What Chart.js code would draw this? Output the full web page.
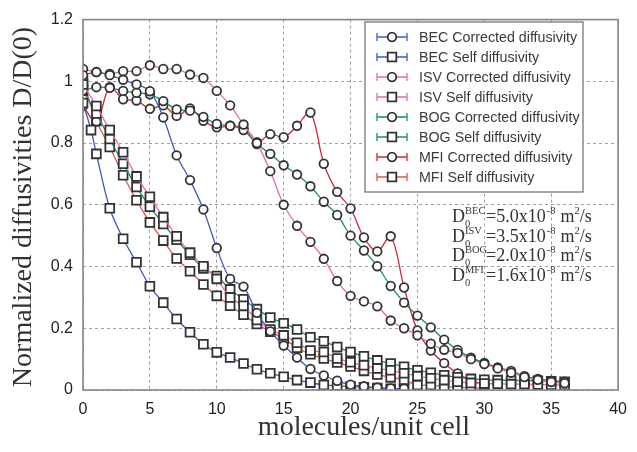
<!DOCTYPE html>
<html>
<head>
<meta charset="utf-8">
<script src="https://cdn.jsdelivr.net/npm/chart.js@4/dist/chart.umd.min.js"></script>
<style>
  html, body { margin: 0; padding: 0; background: #fff; }
  #wrap { width: 637px; height: 452px; position: relative; }
</style>
</head>
<body>
<div id="wrap"><canvas id="diff-chart"></canvas></div>
<script>
// Loading (molecules per unit cell)
const loading = [0, 1, 2, 3, 4, 5, 6, 7, 8, 9, 10, 11, 12, 13, 14, 15, 16, 17, 18,
  19, 20, 21, 22, 23, 24, 25, 26, 27, 28, 29, 30, 31, 32, 33, 34, 35, 36];
const becSelfLoading = [0, 0.6, 1, 2, 3, 4, 5, 6, 7, 8, 9, 10, 11, 12, 13, 14, 15, 16,
  17, 18, 19, 20, 21, 22, 23, 24];

// Normalized diffusivities D/D(0)
const becCorrected = [1.02, 1.03, 1.02, 1.005, 0.99, 0.968, 0.883, 0.76, 0.68, 0.585, 0.46,
  0.36, 0.335, 0.25, 0.19, 0.144, 0.105, 0.068, 0.047, 0.03, 0.017, 0.012, 0.008, 0.005, 0.004];
const becSelf = [0.93, 0.842, 0.765, 0.589, 0.49, 0.414, 0.336, 0.283, 0.23, 0.187, 0.148,
  0.122, 0.105, 0.086, 0.067, 0.054, 0.043, 0.032, 0.024, 0.016, 0.014, 0.011, 0.009, 0.006,
  0.004, 0.004];
const isvCorrected = [1.04, 1.03, 1.024, 1.033, 1.033, 1.052, 1.04, 1.04, 1.022, 1.011, 0.969,
  0.922, 0.86, 0.8, 0.709, 0.6, 0.532, 0.48, 0.425, 0.353, 0.305, 0.287, 0.271, 0.225, 0.2,
  0.177, 0.15, 0.13, 0.12, 0.1, 0.084, 0.07, 0.056, 0.042, 0.033, 0.026, 0.022];
const isvSelf = [0.99, 0.92, 0.842, 0.77, 0.692, 0.626, 0.56, 0.498, 0.445, 0.401, 0.36, 0.3,
  0.273, 0.227, 0.196, 0.177, 0.153, 0.128, 0.123, 0.102, 0.09, 0.08, 0.07, 0.064, 0.054,
  0.045, 0.038, 0.032, 0.027, 0.023, 0.021, 0.02, 0.019, 0.019, 0.018, 0.017, 0.016];
const bogCorrected = [0.97, 0.981, 0.979, 0.969, 0.963, 0.958, 0.936, 0.909, 0.905, 0.885,
  0.862, 0.856, 0.842, 0.797, 0.765, 0.728, 0.698, 0.66, 0.61, 0.567, 0.5, 0.452, 0.401,
  0.337, 0.283, 0.241, 0.203, 0.163, 0.13, 0.105, 0.088, 0.073, 0.062, 0.045, 0.036, 0.03,
  0.027];
const bogSelf = [0.97, 0.896, 0.813, 0.733, 0.658, 0.594, 0.538, 0.487, 0.438, 0.394, 0.369,
  0.326, 0.294, 0.262, 0.235, 0.216, 0.196, 0.171, 0.158, 0.139, 0.123, 0.109, 0.096, 0.086,
  0.075, 0.064, 0.056, 0.048, 0.041, 0.036, 0.033, 0.032, 0.031, 0.031, 0.03, 0.028, 0.027];
const mfiCorrected = [0.92, 0.87, 0.981, 0.942, 0.938, 0.911, 0.922, 0.888, 0.912, 0.872,
  0.851, 0.856, 0.848, 0.803, 0.829, 0.819, 0.856, 0.899, 0.733, 0.642, 0.588, 0.494, 0.449,
  0.498, 0.332, 0.193, 0.128, 0.087, 0.054, 0.032, 0.016];
const mfiSelf = [1.0, 0.872, 0.787, 0.696, 0.615, 0.543, 0.484, 0.426, 0.385, 0.342, 0.305,
  0.273, 0.244, 0.214, 0.189, 0.166, 0.137, 0.116, 0.102, 0.089, 0.076, 0.062, 0.05, 0.041,
  0.032, 0.016, 0.016, 0.011, 0.009, 0.007, 0.006];

// Axis tick labels and titles
const xTickLabels = ['0', '5', '10', '15', '20', '25', '30', '35', '40'];
const yTickLabels = ['0', '0.2', '0.4', '0.6', '0.8', '1', '1.2'];
const xTitle = 'molecules/unit cell';
const yTitle = 'Normalized diffusivities D/D(0)';

// Reference diffusivities D0 per framework
const frameworks = ['BEC', 'ISV', 'BOG', 'MFI'];
const d0Values = ['5.0', '3.5', '2.0', '1.6'];

const seriesNames = [
  'BEC Corrected diffusivity', 'BEC Self diffusivity',
  'ISV Corrected diffusivity', 'ISV Self diffusivity',
  'BOG Corrected diffusivity', 'BOG Self diffusivity',
  'MFI Corrected diffusivity', 'MFI Self diffusivity',
];

const BLUE = '#3a5cc0';
const PINK = '#e868b0';
const GREEN = '#15935a';
const RED = '#cc2a3c';
const SALMON = '#dc5a48';

const SERIF = '"Liberation Serif", "Times New Roman", serif';

const toPoints = (xs, ys) => ys.map((y, i) => ({ x: xs[i], y }));

function series(label, xs, ys, color, shape) {
  return {
    label,
    data: toPoints(xs, ys),
    borderColor: color,
    borderWidth: 1.3,
    pointStyle: shape,
    pointRadius: shape === 'rect' ? 6.2 : 4.3,
    pointBorderWidth: 1.8,
    pointBorderColor: '#333',
    pointBackgroundColor: '#fff',
    tension: 0.35,
    fill: false,
  };
}

const datasets = [
  series(seriesNames[0], loading, becCorrected, BLUE, 'circle'),
  series(seriesNames[1], becSelfLoading, becSelf, BLUE, 'rect'),
  series(seriesNames[2], loading, isvCorrected, PINK, 'circle'),
  series(seriesNames[3], loading, isvSelf, PINK, 'rect'),
  series(seriesNames[4], loading, bogCorrected, GREEN, 'circle'),
  series(seriesNames[5], loading, bogSelf, GREEN, 'rect'),
  series(seriesNames[6], loading, mfiCorrected, RED, 'circle'),
  series(seriesNames[7], loading, mfiSelf, SALMON, 'rect'),
];

// Frame around the plot area, plus the axis titles
const framePlugin = {
  id: 'frame',
  afterDraw(chart) {
    const { ctx, chartArea: a } = chart;
    ctx.save();
    ctx.strokeStyle = '#858585';
    ctx.lineWidth = 1.6;
    ctx.strokeRect(a.left, a.top, a.right - a.left, a.bottom - a.top);

    ctx.fillStyle = '#333';
    ctx.font = `28px ${SERIF}`;
    ctx.textAlign = 'center';
    ctx.textBaseline = 'alphabetic';
    ctx.fillText(xTitle, 364, 435);
    ctx.translate(31, 207);
    ctx.rotate(-Math.PI / 2);
    ctx.fillText(yTitle, 0, 0);
    ctx.restore();
  },
};

// Boxed legend with error-bar style samples
const boxLegend = {
  id: 'boxLegend',
  afterDraw(chart) {
    const { ctx } = chart;
    const left = 365, top = 22, w = 218, h = 170;
    ctx.save();
    ctx.fillStyle = '#fff';
    ctx.fillRect(left, top, w, h);
    ctx.strokeStyle = '#777';
    ctx.lineWidth = 1.3;
    ctx.strokeRect(left, top, w, h);
    chart.data.datasets.forEach((ds, i) => {
      const y = top + 15 + i * 20;
      const x1 = left + 12, x2 = left + 42, xm = (x1 + x2) / 2;
      ctx.strokeStyle = ds.borderColor;
      ctx.lineWidth = 1.3;
      ctx.beginPath();
      ctx.moveTo(x1, y); ctx.lineTo(x2, y);
      ctx.moveTo(x1, y - 4); ctx.lineTo(x1, y + 4);
      ctx.moveTo(x2, y - 4); ctx.lineTo(x2, y + 4);
      ctx.stroke();
      ctx.fillStyle = '#fff';
      ctx.strokeStyle = '#333';
      ctx.lineWidth = 1.8;
      ctx.beginPath();
      if (ds.pointStyle === 'rect') ctx.rect(xm - 4.3, y - 4.3, 8.6, 8.6);
      else ctx.arc(xm, y, 4.3, 0, Math.PI * 2);
      ctx.fill(); ctx.stroke();
      ctx.fillStyle = '#3a3a3a';
      ctx.font = '15px "Liberation Sans", Arial, sans-serif';
      ctx.textBaseline = 'middle';
      ctx.save();
      ctx.translate(left + 54, y + 1);
      ctx.scale(0.95, 1);
      ctx.fillText(ds.label, 0, 0);
      ctx.restore();
    });
    ctx.restore();
  },
};

// D0 reference values, with sub/superscripts
const d0Notes = {
  id: 'd0Notes',
  afterDraw(chart) {
    const { ctx } = chart;
    ctx.save();
    ctx.fillStyle = '#333';
    ctx.textBaseline = 'alphabetic';
    frameworks.forEach((fw, i) => {
      const base = 222 + i * 19.6;
      let x = 452;
      ctx.font = `18px ${SERIF}`;
      ctx.fillText('D', x, base);
      ctx.font = `10.5px ${SERIF}`;
      ctx.fillText('0', x + 13, base + 5);
      ctx.fillText(fw, x + 13, base - 8);
      x = 486;
      ctx.font = `18px ${SERIF}`;
      const main = `=${d0Values[i]}x10`;
      ctx.fillText(main, x, base);
      x += ctx.measureText(main).width + 1;
      ctx.font = `10.5px ${SERIF}`;
      ctx.fillText('-8', x, base - 8);
      x += ctx.measureText('-8').width + 5;
      ctx.font = `18px ${SERIF}`;
      ctx.fillText('m', x, base);
      x += ctx.measureText('m').width;
      ctx.font = `10.5px ${SERIF}`;
      ctx.fillText('2', x, base - 8);
      x += ctx.measureText('2').width;
      ctx.font = `18px ${SERIF}`;
      ctx.fillText('/s', x, base);
    });
    ctx.restore();
  },
};

const tickFont = { family: '"Liberation Sans", Arial, sans-serif', size: 16 };

new Chart(document.getElementById('diff-chart'), {
  type: 'line',
  data: { datasets },
  options: {
    responsive: true,
    maintainAspectRatio: false,
    animation: false,
    layout: { padding: { left: 0, top: 16, right: 15, bottom: 0 } },
    plugins: {
      legend: { display: false },
      tooltip: { enabled: false },
    },
    scales: {
      x: {
        type: 'linear',
        min: 0,
        max: 40,
        afterFit: (scale) => { scale.height = 62; },
        ticks: {
          stepSize: 5,
          padding: 10,
          color: '#222',
          font: tickFont,
          callback: (v) => xTickLabels[Math.round(v / 5)],
        },
        grid: { color: '#a0a0a0', lineWidth: 1, drawTicks: false },
        border: { display: false, dash: [3, 3] },
      },
      y: {
        min: 0,
        max: 1.2,
        afterFit: (scale) => { scale.width = 83; },
        ticks: {
          stepSize: 0.2,
          padding: 10,
          color: '#222',
          font: tickFont,
          callback: (v) => yTickLabels[Math.round(v / 0.2)],
        },
        grid: { color: '#a0a0a0', lineWidth: 1, drawTicks: false },
        border: { display: false, dash: [3, 3] },
      },
    },
  },
  plugins: [framePlugin, boxLegend, d0Notes],
});
</script>
</body>
</html>
